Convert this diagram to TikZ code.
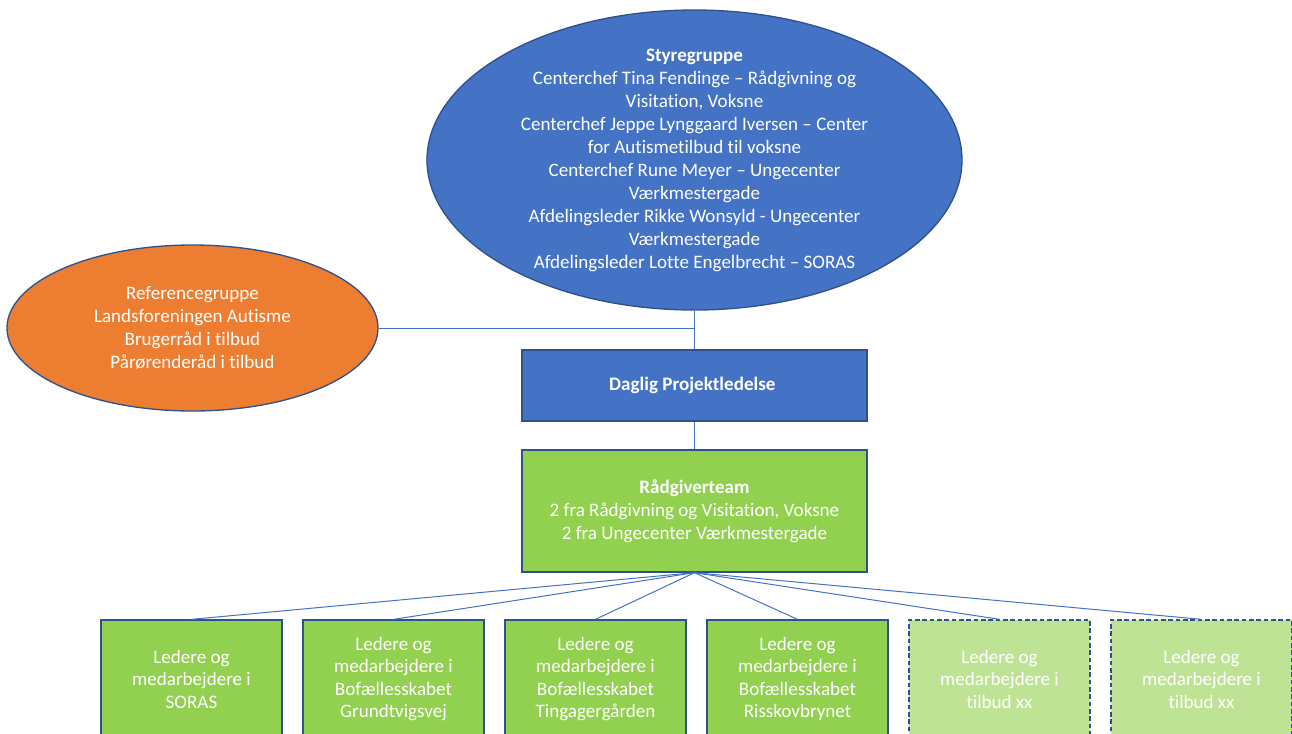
\documentclass[tikz,border=0pt]{standalone}
\usepackage{fontspec}
\setmainfont{Carlito}[RawFeature=-liga]
\usetikzlibrary{shapes.geometric}
\definecolor{offblue}{HTML}{4472C4}
\definecolor{edgeblue}{HTML}{2F528F}
\definecolor{offorange}{HTML}{ED7D31}
\definecolor{offgreen}{HTML}{92D050}
\definecolor{palegreen}{HTML}{BEE395}

\begin{document}
\begin{tikzpicture}[x=0.75pt,y=-0.75pt,
      txt/.style={text=white,align=center,font=\fontsize{14.3}{17.25}\selectfont},
      oval/.style={ellipse,draw=edgeblue,line width=1pt,inner sep=0pt},
      box/.style={rectangle,draw=edgeblue,line width=1pt,txt},
      unit/.style={box,fill=offgreen,minimum width=135.75pt,minimum height=88.5pt,font=\fontsize{14.3}{16.9}\selectfont},
      unitxx/.style={unit,fill=palegreen,dash pattern=on 3.5pt off 2pt},
      conn/.style={draw=offblue,line width=0.75pt}]
      \useasboundingbox (0,0) rectangle (1292,733);

      % styregruppe og referencegruppe
      \node[oval,fill=offblue,minimum width=401.25pt,minimum height=225pt] (styr) at (694.5,160) {};
      \node[txt] (styrtxt) at (styr.center) { \textbf{Styregruppe}\\
        Centerchef Tina Fendinge – Rådgivning og\\
        Visitation, Voksne\\
        Centerchef Jeppe Lynggaard Iversen – Center\\
        for Autismetilbud til voksne\\
        Centerchef Rune Meyer – Ungecenter\\
        Værkmestergade\\
        Afdelingsleder Rikke Wonsyld - Ungecenter\\
        Værkmestergade\\
        Afdelingsleder Lotte Engelbrecht – SORAS };

      \node[oval,fill=offorange,minimum width=278.25pt,minimum height=124.5pt] (ref) at (192.5,328) {};
      \node[txt] (reftxt) at (ref.center) { Referencegruppe\\
        Landsforeningen Autisme\\
        Brugerråd i tilbud\\
        Pårørenderåd i tilbud };

      % projektledelse og raadgivere
      \node[box,fill=offblue,minimum width=258.75pt,minimum height=53.25pt] (dagl) at (694.5,385.5) { \textbf{Daglig Projektledelse} };
      \node[box,fill=offgreen,minimum width=258.75pt,minimum height=91.5pt] (radg) at (694.5,511) { \textbf{Rådgiverteam}\\
        2 fra Rådgivning og Visitation, Voksne\\
        2 fra Ungecenter Værkmestergade };

      % tilbud
      \node[unit] (soras) at (191.5,679) { Ledere og\\medarbejdere i\\SORAS };
      \node[unit] (grundt) at (393.5,679) { Ledere og\\medarbejdere i\\Bofællesskabet\\Grundtvigsvej };
      \node[unit] (tinga) at (595.5,679) { Ledere og\\medarbejdere i\\Bofællesskabet\\Tingagergården };
      \node[unit] (rissk) at (797.5,679) { Ledere og\\medarbejdere i\\Bofællesskabet\\Risskovbrynet };
      \node[unitxx] (xxa) at (999.5,679) { Ledere og\\medarbejdere i\\tilbud xx };
      \node[unitxx] (xxb) at (1201.5,679) { Ledere og\\medarbejdere i\\tilbud xx };

      \coordinate (join) at (694.5,328);

      \path[conn]
      (styr.south) edge (dagl.north)
      (ref.east) edge (join)
      (dagl.south) edge (radg.north)

      (radg.south) edge (soras.north)
      (radg.south) edge (grundt.north)
      (radg.south) edge (tinga.north)
      (radg.south) edge (rissk.north)
      (radg.south) edge (xxa.north)
      (radg.south) edge (xxb.north)
      ;
      \end{tikzpicture}
\end{document}
